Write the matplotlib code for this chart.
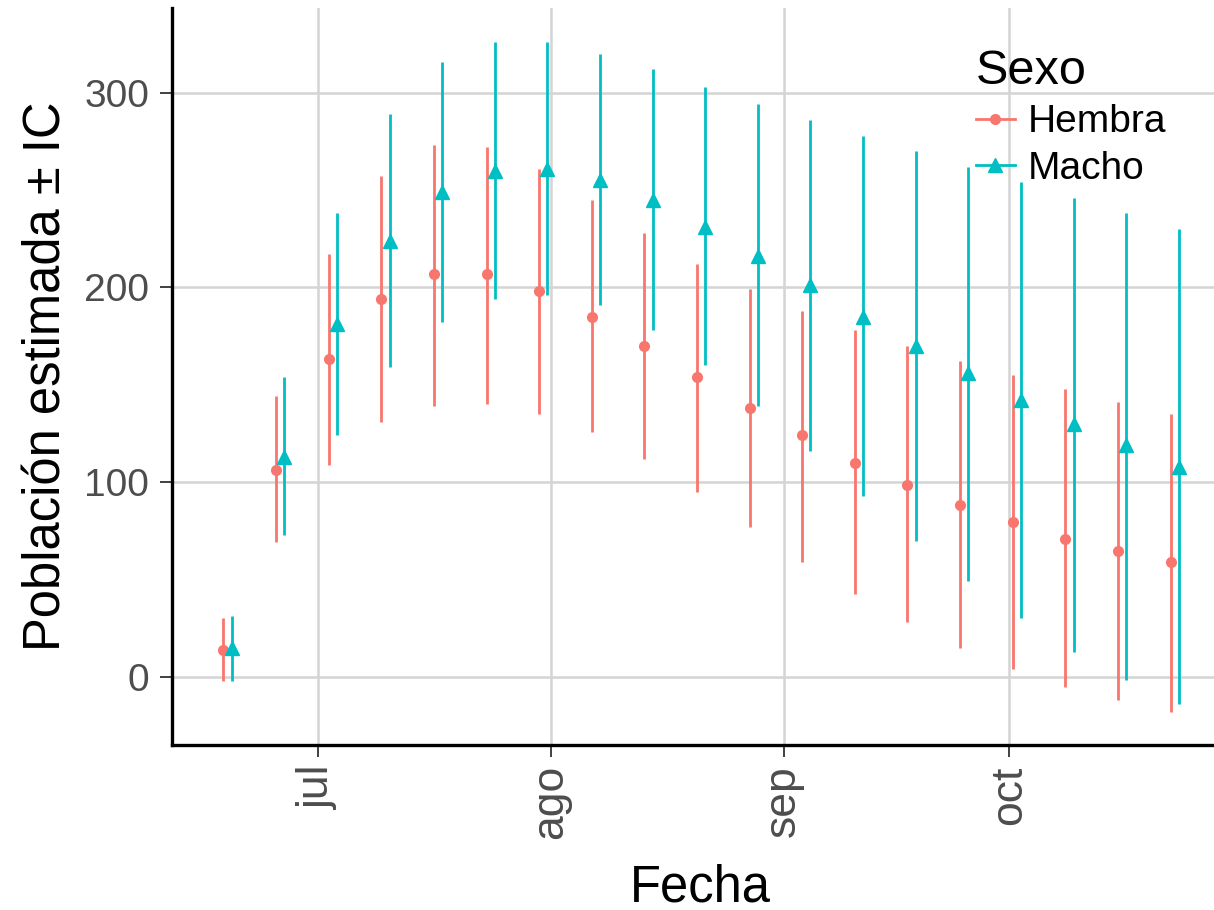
import datetime as dt
import numpy as np
import matplotlib
matplotlib.use("Agg")
import matplotlib.pyplot as plt
import matplotlib.dates as mdates
from matplotlib.lines import Line2D

plt.rcParams['font.family'] = ['Liberation Sans', 'DejaVu Sans']

# weekly dates
fechas = [dt.date(2016, 6, 19) + dt.timedelta(days=7 * i) for i in range(19)]

hembra_est = [14, 106, 163, 194, 207, 207, 198, 185, 170, 154, 138, 124, 110, 98.5, 88, 79.5, 71, 64.5, 59]
hembra_lo = [-2, 69, 109, 131, 139, 140, 135, 126, 112, 95, 77, 59, 42.5, 28, 15, 4, -5, -12, -18]
hembra_hi = [30, 144, 217, 257, 273, 272, 261, 245, 228, 212, 199, 188, 178, 170, 162, 155, 148, 141, 135]

macho_est = [15, 113, 181, 224, 249, 260, 261, 255, 245, 231, 216, 201, 185, 170, 156, 142, 130, 119, 108]
macho_lo = [-2, 73, 124, 159, 182, 194, 196, 191, 178, 160, 139, 116, 93, 70, 49, 30, 13, -1.5, -14]
macho_hi = [31, 154, 238, 289, 316, 326, 326, 320, 312, 303, 294, 286, 278, 270, 262, 254, 246, 238, 230]

mes_ticks = [dt.date(2016, 7, 1), dt.date(2016, 8, 1), dt.date(2016, 9, 1), dt.date(2016, 10, 1)]
mes_labels = ['jul', 'ago', 'sep', 'oct']

col_h = '#F8766D'
col_m = '#00BFC4'

fig = plt.figure(figsize=(12.14, 9.10), dpi=100)
# panel runs a bit past the right edge (the original is cropped there)
ax = fig.add_axes([172 / 1214, 165 / 910, (1228 - 172) / 1214, (745 - 8) / 910])

x = mdates.date2num(fechas)
dodge = 0.55

def pointrange(xs, est, lo, hi, color, marker, ms):
    est = np.array(est)
    ax.vlines(xs, lo, hi, color=color, lw=2.0, zorder=3)
    ax.plot(xs, est, linestyle='none', marker=marker, color=color, ms=ms, zorder=4)

pointrange(x - dodge, hembra_est, hembra_lo, hembra_hi, col_h, 'o', 7)
pointrange(x + dodge, macho_est, macho_lo, macho_hi, col_m, '^', 9.5)

jul1 = mdates.date2num(dt.date(2016, 7, 1))
oct1 = mdates.date2num(dt.date(2016, 10, 1))
ax.set_xlim(jul1 - 19.4, oct1 + 29.1)
ax.set_ylim(-35, 343.5)

ax.set_xticks(mdates.date2num(mes_ticks))
ax.set_xticklabels(mes_labels, rotation=90)
ax.set_yticks([0, 100, 200, 300])

ax.grid(True, color='#d4d4d4', lw=1.8, zorder=0)
ax.set_axisbelow(True)
for s in ['top', 'right']:
    ax.spines[s].set_visible(False)
for s in ['left', 'bottom']:
    ax.spines[s].set_color('black')
    ax.spines[s].set_linewidth(2.4)

ax.tick_params(axis='both', length=8.5, width=1.3, color='#333333', labelcolor='#4d4d4d')
ax.tick_params(axis='x', labelsize=32, pad=6)
ax.tick_params(axis='y', labelsize=28, pad=8)

ax.set_xlabel('Fecha', fontsize=36.5, labelpad=17)
ax.set_ylabel('Población estimada ± IC', fontsize=36.5, labelpad=9)

handles = [
    Line2D([], [], color=col_h, marker='o', ms=7, lw=2.0),
    Line2D([], [], color=col_m, marker='^', ms=9.5, lw=2.0),
]
# legend anchored in figure pixels so it stays put
leg = fig.legend(handles, ['Hembra', 'Macho'], title='Sexo', loc='upper left',
                 bbox_to_anchor=(976 / 1214, 1 - 49 / 910), frameon=False, fontsize=28,
                 title_fontsize=35, handlelength=1.0, handletextpad=0.33,
                 labelspacing=0.27, borderpad=0, borderaxespad=0)
leg._legend_box.align = 'left'

fig.savefig('out.png', dpi=100)
